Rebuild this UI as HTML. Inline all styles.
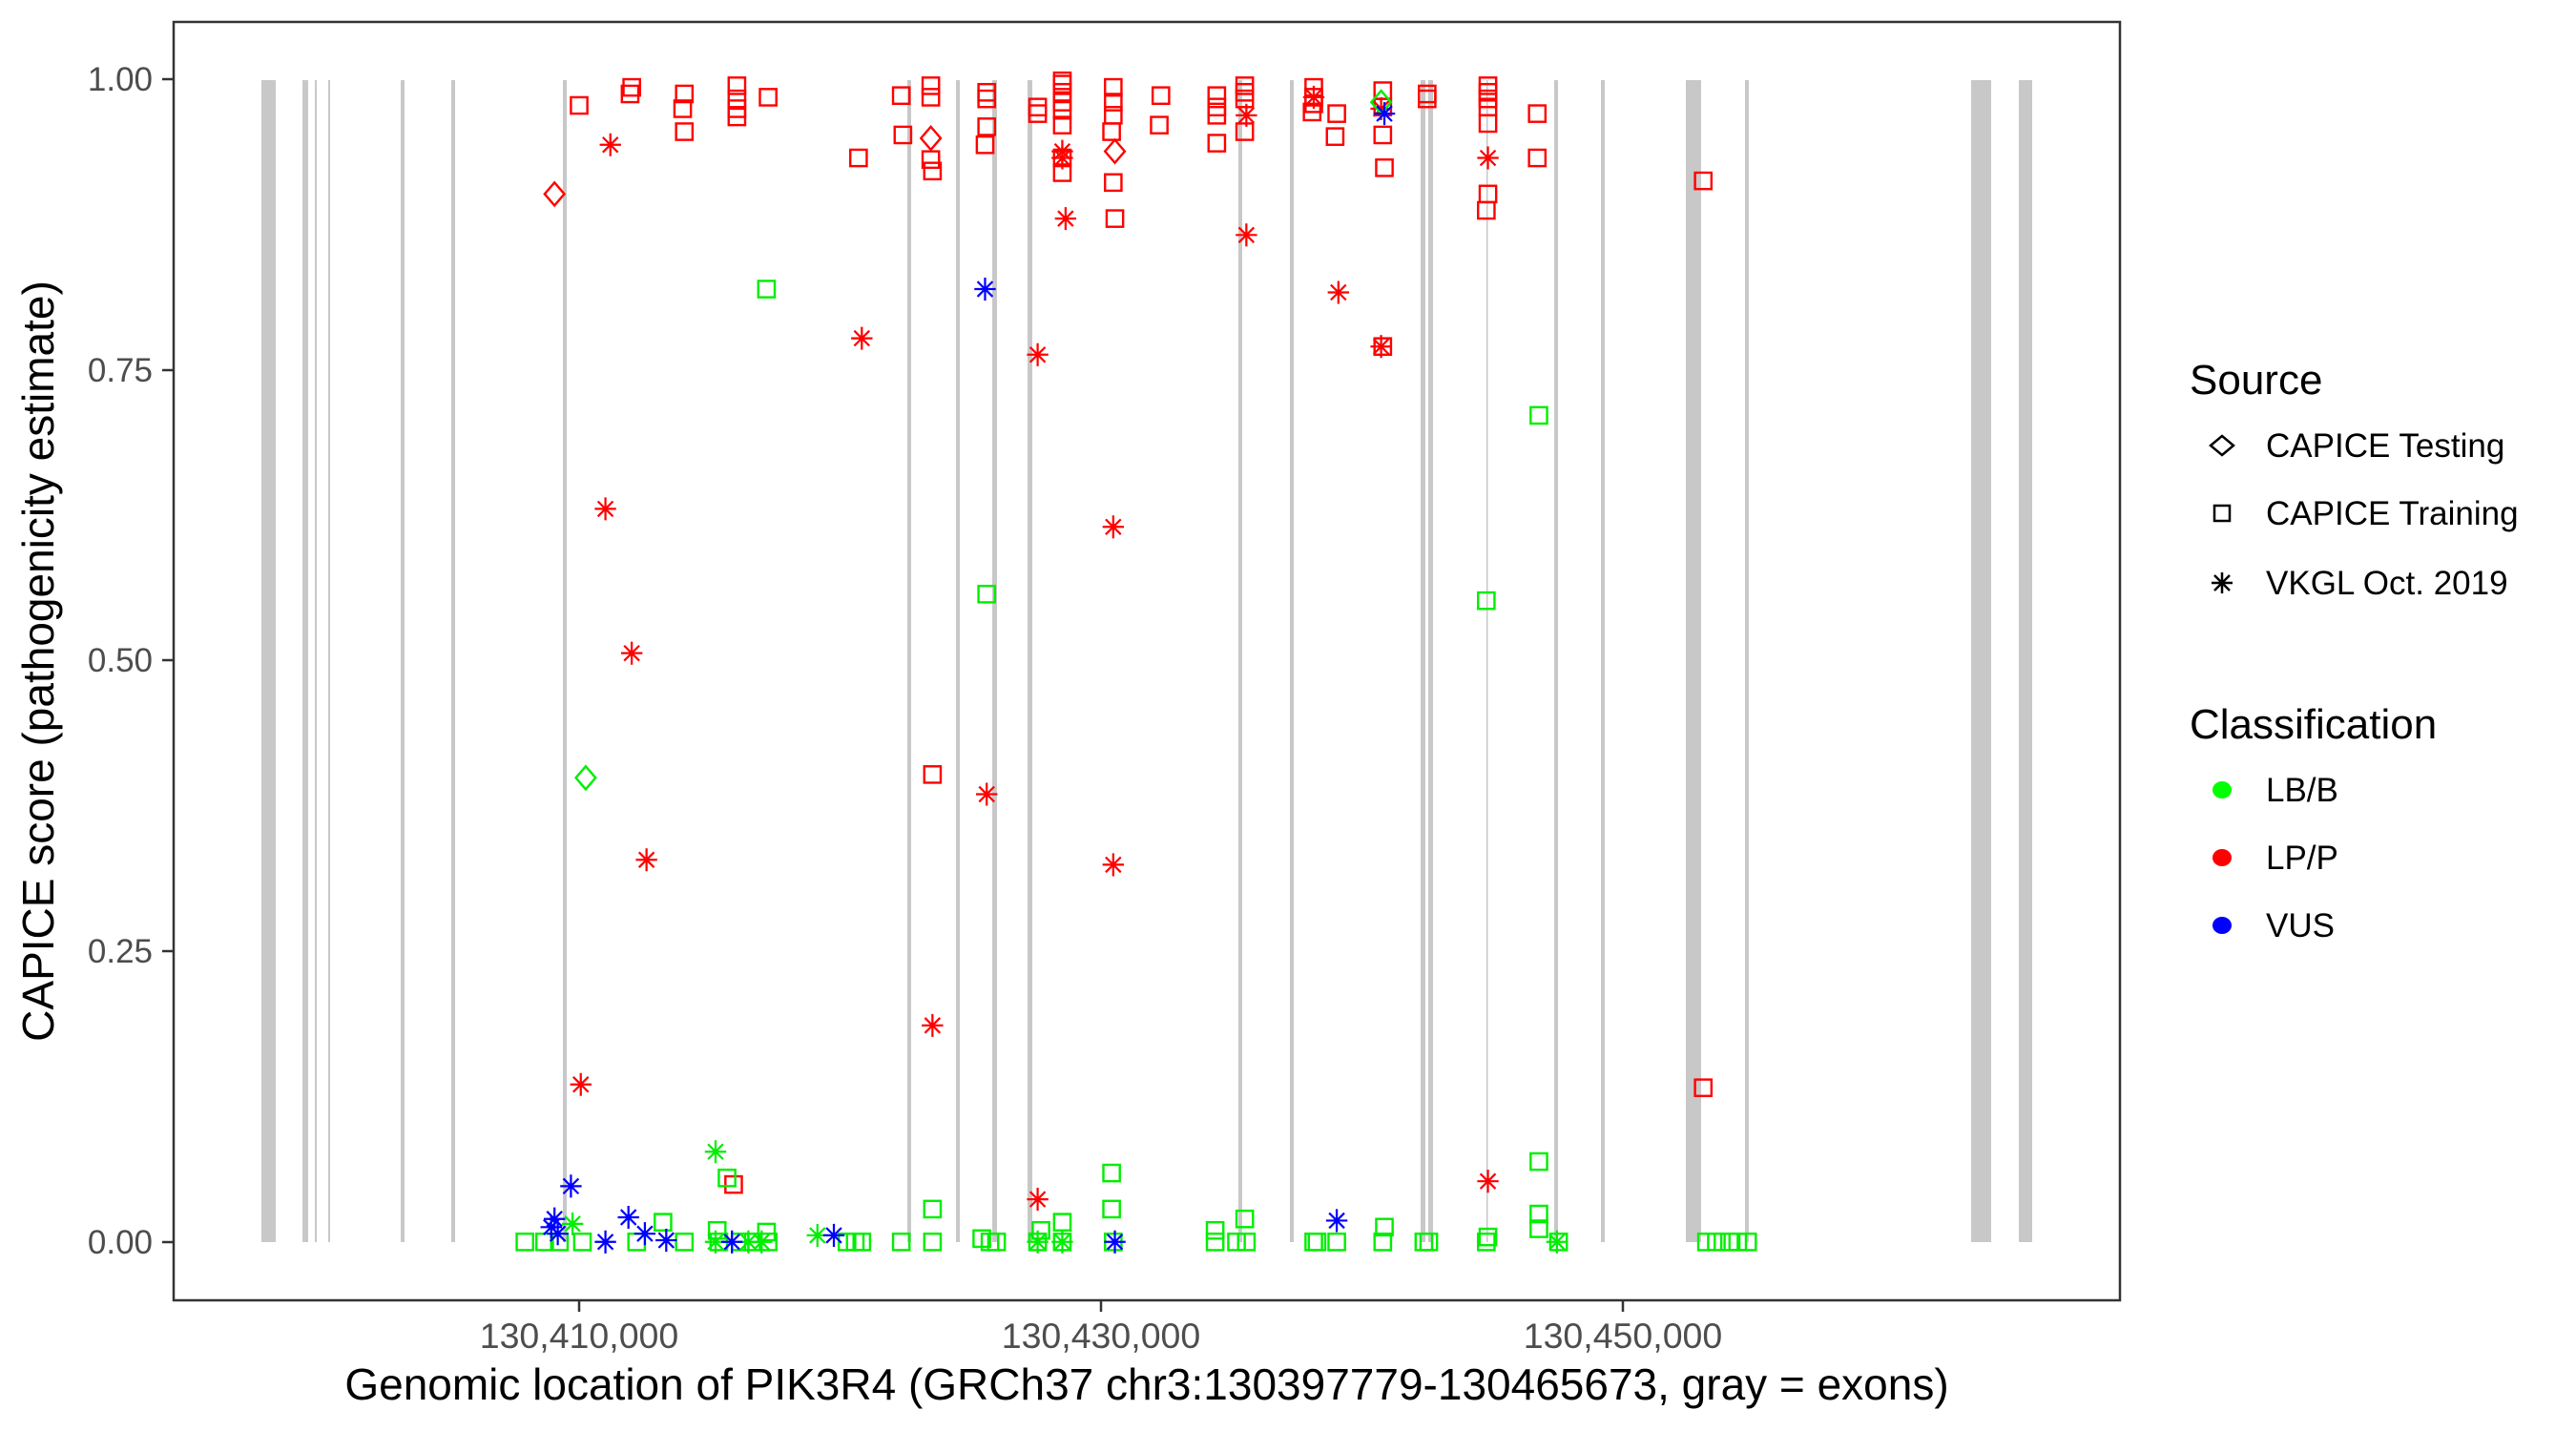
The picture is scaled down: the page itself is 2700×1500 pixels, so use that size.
<!DOCTYPE html>
<html><head><meta charset="utf-8"><style>
html,body{margin:0;padding:0;background:#fff}
svg{display:block}
text{font-family:"Liberation Sans",Arial,sans-serif}
</style></head><body>
<svg width="2700" height="1500" viewBox="0 0 2700 1500" xmlns="http://www.w3.org/2000/svg">
<defs>
<rect id="s" x="-5" y="-5" width="10" height="10" fill="none" stroke-width="1.4"/>
<polygon id="d" points="0,-7 6,0 0,7 -6,0" fill="none" stroke-width="1.4"/>
<path id="a" d="M0,-7V7M-6.5,0H6.5M-4.6,-4.6L4.6,4.6M-4.6,4.6L4.6,-4.6" fill="none" stroke-width="1.3"/>
</defs>
<rect x="0" y="0" width="2700" height="1500" fill="#fff"/>
<g fill="#c8c8c8">
<rect x="274" y="84" width="15" height="1218"/>
<rect x="317" y="84" width="6" height="1218"/>
<rect x="330" y="84" width="2" height="1218"/>
<rect x="344" y="84" width="2" height="1218"/>
<rect x="420" y="84" width="4" height="1218"/>
<rect x="473" y="84" width="4" height="1218"/>
<rect x="590" y="84" width="4" height="1218"/>
<rect x="951" y="84" width="4" height="1218"/>
<rect x="1002" y="84" width="4" height="1218"/>
<rect x="1040" y="84" width="5" height="1218"/>
<rect x="1077" y="84" width="5" height="1218"/>
<rect x="1298" y="84" width="4" height="1218"/>
<rect x="1352" y="84" width="4" height="1218"/>
<rect x="1489" y="84" width="5" height="1218"/>
<rect x="1497" y="84" width="5" height="1218"/>
<rect x="1558" y="84" width="1.5" height="1218"/>
<rect x="1629" y="84" width="4" height="1218"/>
<rect x="1678" y="84" width="4" height="1218"/>
<rect x="1767" y="84" width="16" height="1218"/>
<rect x="1829" y="84" width="4" height="1218"/>
<rect x="2066" y="84" width="21" height="1218"/>
<rect x="2116" y="84" width="14" height="1218"/>
</g>
<g transform="matrix(1.7225 0 0 1.719 0.7 0.5)">
<g stroke="#ff0000">
<use href="#s" x="352" y="64"/><use href="#d" x="337" y="118"/><use href="#a" x="371" y="88"/>
<use href="#s" x="384" y="53"/><use href="#s" x="383" y="57"/>
<use href="#s" x="416" y="57"/><use href="#s" x="415" y="66"/><use href="#s" x="416" y="80"/>
<use href="#s" x="448" y="52"/><use href="#s" x="448" y="60"/><use href="#s" x="448" y="66"/><use href="#s" x="448" y="71"/>
<use href="#s" x="467" y="59"/><use href="#s" x="522" y="96"/>
<use href="#s" x="548" y="58"/><use href="#s" x="549" y="82"/>
<use href="#s" x="566" y="52"/><use href="#s" x="566" y="59"/><use href="#s" x="566" y="97"/><use href="#s" x="567" y="104"/><use href="#d" x="566" y="84"/>
<use href="#s" x="600" y="56"/><use href="#s" x="600" y="60"/><use href="#s" x="600" y="77"/><use href="#s" x="599" y="88"/>
<use href="#s" x="631" y="65"/><use href="#s" x="631" y="69"/>
<use href="#s" x="646" y="49"/><use href="#s" x="646" y="51"/><use href="#s" x="646" y="56"/><use href="#s" x="646" y="62"/><use href="#s" x="646" y="67"/><use href="#s" x="646" y="76"/><use href="#s" x="646" y="96"/><use href="#s" x="646" y="105"/>
<use href="#a" x="646" y="92"/><use href="#a" x="646" y="96"/><use href="#a" x="648" y="133"/>
<use href="#s" x="677" y="53"/><use href="#s" x="677" y="62"/><use href="#s" x="677" y="70"/><use href="#s" x="676" y="80"/><use href="#s" x="677" y="111"/><use href="#s" x="678" y="133"/><use href="#d" x="678" y="92"/>
<use href="#s" x="706" y="58"/><use href="#s" x="705" y="76"/>
<use href="#s" x="740" y="58"/><use href="#s" x="740" y="65"/><use href="#s" x="740" y="70"/><use href="#s" x="740" y="87"/>
<use href="#s" x="757" y="52"/><use href="#s" x="757" y="56"/><use href="#s" x="757" y="60"/><use href="#s" x="757" y="80"/><use href="#a" x="758" y="70"/><use href="#a" x="758" y="143"/>
<use href="#s" x="799" y="53"/><use href="#s" x="799" y="59"/><use href="#s" x="799" y="63"/><use href="#s" x="798" y="68"/><use href="#a" x="799" y="59"/>
<use href="#s" x="813" y="69"/><use href="#s" x="812" y="83"/>
<use href="#s" x="841" y="55"/><use href="#s" x="841" y="65"/><use href="#s" x="841" y="82"/><use href="#s" x="842" y="102"/><use href="#a" x="840" y="66"/>
<use href="#s" x="868" y="57"/><use href="#s" x="868" y="60"/>
<use href="#s" x="905" y="52"/><use href="#s" x="905" y="56"/><use href="#s" x="905" y="60"/><use href="#s" x="905" y="65"/><use href="#s" x="905" y="75"/><use href="#s" x="905" y="118"/><use href="#s" x="904" y="128"/><use href="#a" x="905" y="96"/>
<use href="#s" x="935" y="69"/><use href="#s" x="935" y="96"/><use href="#s" x="1036" y="110"/>
<use href="#a" x="524" y="206"/><use href="#a" x="631" y="216"/><use href="#a" x="814" y="178"/>
<use href="#a" x="840" y="211"/><use href="#s" x="841" y="211"/>
<use href="#a" x="368" y="310"/><use href="#a" x="677" y="321"/><use href="#a" x="384" y="398"/>
<use href="#a" x="600" y="484"/><use href="#s" x="567" y="472"/><use href="#a" x="393" y="524"/>
<use href="#a" x="677" y="527"/><use href="#a" x="567" y="625"/><use href="#a" x="353" y="661"/>
<use href="#s" x="1036" y="663"/><use href="#s" x="446" y="722"/>
<use href="#a" x="631" y="731"/><use href="#a" x="905" y="720"/>
</g>
<g stroke="#00ee00">
<use href="#d" x="840" y="62"/><use href="#s" x="466" y="176"/><use href="#s" x="936" y="253"/>
<use href="#s" x="600" y="362"/><use href="#s" x="904" y="366"/><use href="#d" x="356" y="474"/>
<use href="#a" x="435" y="702"/><use href="#s" x="442" y="718"/><use href="#s" x="676" y="715"/><use href="#s" x="936" y="708"/>
<use href="#a" x="348" y="746"/>
<use href="#s" x="319" y="757"/><use href="#s" x="331" y="757"/><use href="#s" x="340" y="757"/><use href="#s" x="354" y="757"/><use href="#s" x="387" y="757"/><use href="#s" x="403" y="745"/><use href="#s" x="416" y="757"/><use href="#s" x="437" y="757"/><use href="#s" x="436" y="750"/><use href="#s" x="450" y="757"/><use href="#s" x="458" y="757"/><use href="#s" x="467" y="757"/><use href="#s" x="466" y="751"/><use href="#s" x="515" y="757"/><use href="#s" x="520" y="757"/><use href="#s" x="524" y="757"/><use href="#s" x="548" y="757"/><use href="#s" x="567" y="757"/><use href="#s" x="567" y="737"/><use href="#s" x="597" y="755"/><use href="#s" x="602" y="757"/><use href="#s" x="606" y="757"/><use href="#s" x="631" y="757"/><use href="#s" x="633" y="750"/><use href="#s" x="646" y="745"/><use href="#s" x="646" y="757"/><use href="#s" x="676" y="737"/><use href="#s" x="677" y="757"/><use href="#s" x="739" y="750"/><use href="#s" x="739" y="757"/><use href="#s" x="757" y="743"/><use href="#s" x="752" y="757"/><use href="#s" x="758" y="757"/><use href="#s" x="799" y="757"/><use href="#s" x="801" y="757"/><use href="#s" x="813" y="757"/><use href="#s" x="841" y="757"/><use href="#s" x="842" y="748"/><use href="#s" x="866" y="757"/><use href="#s" x="869" y="757"/><use href="#s" x="904" y="757"/><use href="#s" x="905" y="754"/><use href="#s" x="936" y="740"/><use href="#s" x="936" y="749"/><use href="#s" x="948" y="757"/><use href="#s" x="1038" y="757"/><use href="#s" x="1044" y="757"/><use href="#s" x="1052" y="757"/><use href="#s" x="1057" y="757"/><use href="#s" x="1063" y="757"/>
<use href="#a" x="435" y="757"/><use href="#a" x="455" y="757"/><use href="#a" x="463" y="757"/><use href="#a" x="497" y="753"/><use href="#a" x="631" y="757"/><use href="#a" x="947" y="757"/><use href="#a" x="646" y="757"/>
</g>
<g stroke="#0000ff">
<use href="#a" x="842" y="69"/><use href="#a" x="599" y="176"/>
<use href="#a" x="347" y="723"/><use href="#a" x="337" y="743"/><use href="#a" x="335" y="748"/><use href="#a" x="339" y="752"/>
<use href="#a" x="382" y="742"/><use href="#a" x="392" y="752"/><use href="#a" x="405" y="756"/><use href="#a" x="368" y="757"/><use href="#a" x="445" y="757"/><use href="#a" x="507" y="753"/><use href="#a" x="678" y="757"/><use href="#a" x="813" y="744"/>
</g>
</g>
<rect x="182" y="23" width="2040" height="1340" fill="none" stroke="#333" stroke-width="2.5"/>
<g stroke="#333" stroke-width="2.5">
<line x1="170" y1="83" x2="182" y2="83"/><line x1="170" y1="388" x2="182" y2="388"/><line x1="170" y1="692" x2="182" y2="692"/><line x1="170" y1="997" x2="182" y2="997"/><line x1="170" y1="1302" x2="182" y2="1302"/>
<line x1="607" y1="1363" x2="607" y2="1375"/><line x1="1154" y1="1363" x2="1154" y2="1375"/><line x1="1701" y1="1363" x2="1701" y2="1375"/>
</g>
<g fill="#4d4d4d" font-size="35" text-anchor="end">
<text x="160" y="95">1.00</text><text x="160" y="400">0.75</text><text x="160" y="704">0.50</text><text x="160" y="1009">0.25</text><text x="160" y="1314">0.00</text>
</g>
<g fill="#4d4d4d" font-size="37.5" text-anchor="middle">
<text x="607" y="1413">130,410,000</text><text x="1154" y="1413">130,430,000</text><text x="1701" y="1413">130,450,000</text>
</g>
<text x="1202" y="1467" font-size="46" text-anchor="middle" fill="#000">Genomic location of PIK3R4 (GRCh37 chr3:130397779-130465673, gray = exons)</text>
<text transform="translate(56 693) rotate(-90)" font-size="46" text-anchor="middle" fill="#000">CAPICE score (pathogenicity estimate)</text>
<text x="2295" y="413" font-size="44">Source</text>
<polygon points="2329,457 2341,467 2329,477 2317,467" fill="none" stroke="#000" stroke-width="2.5"/>
<rect x="2321" y="530" width="16" height="16" fill="none" stroke="#000" stroke-width="2.5"/>
<path d="M2329,600V622M2318,611H2340M2321,603L2337,619M2321,619L2337,603" stroke="#000" stroke-width="2.5"/>
<g font-size="35" fill="#000">
<text x="2375" y="479">CAPICE Testing</text>
<text x="2375" y="550">CAPICE Training</text>
<text x="2375" y="623">VKGL Oct. 2019</text>
</g>
<text x="2295" y="774" font-size="44">Classification</text>
<ellipse cx="2329" cy="828" rx="10" ry="9" fill="#00ff00"/>
<ellipse cx="2329" cy="899" rx="10" ry="9" fill="#ff0000"/>
<ellipse cx="2329" cy="970" rx="10" ry="9" fill="#0000ff"/>
<g font-size="35" fill="#000">
<text x="2375" y="840">LB/B</text>
<text x="2375" y="911">LP/P</text>
<text x="2375" y="982">VUS</text>
</g>
</svg>
</body></html>
